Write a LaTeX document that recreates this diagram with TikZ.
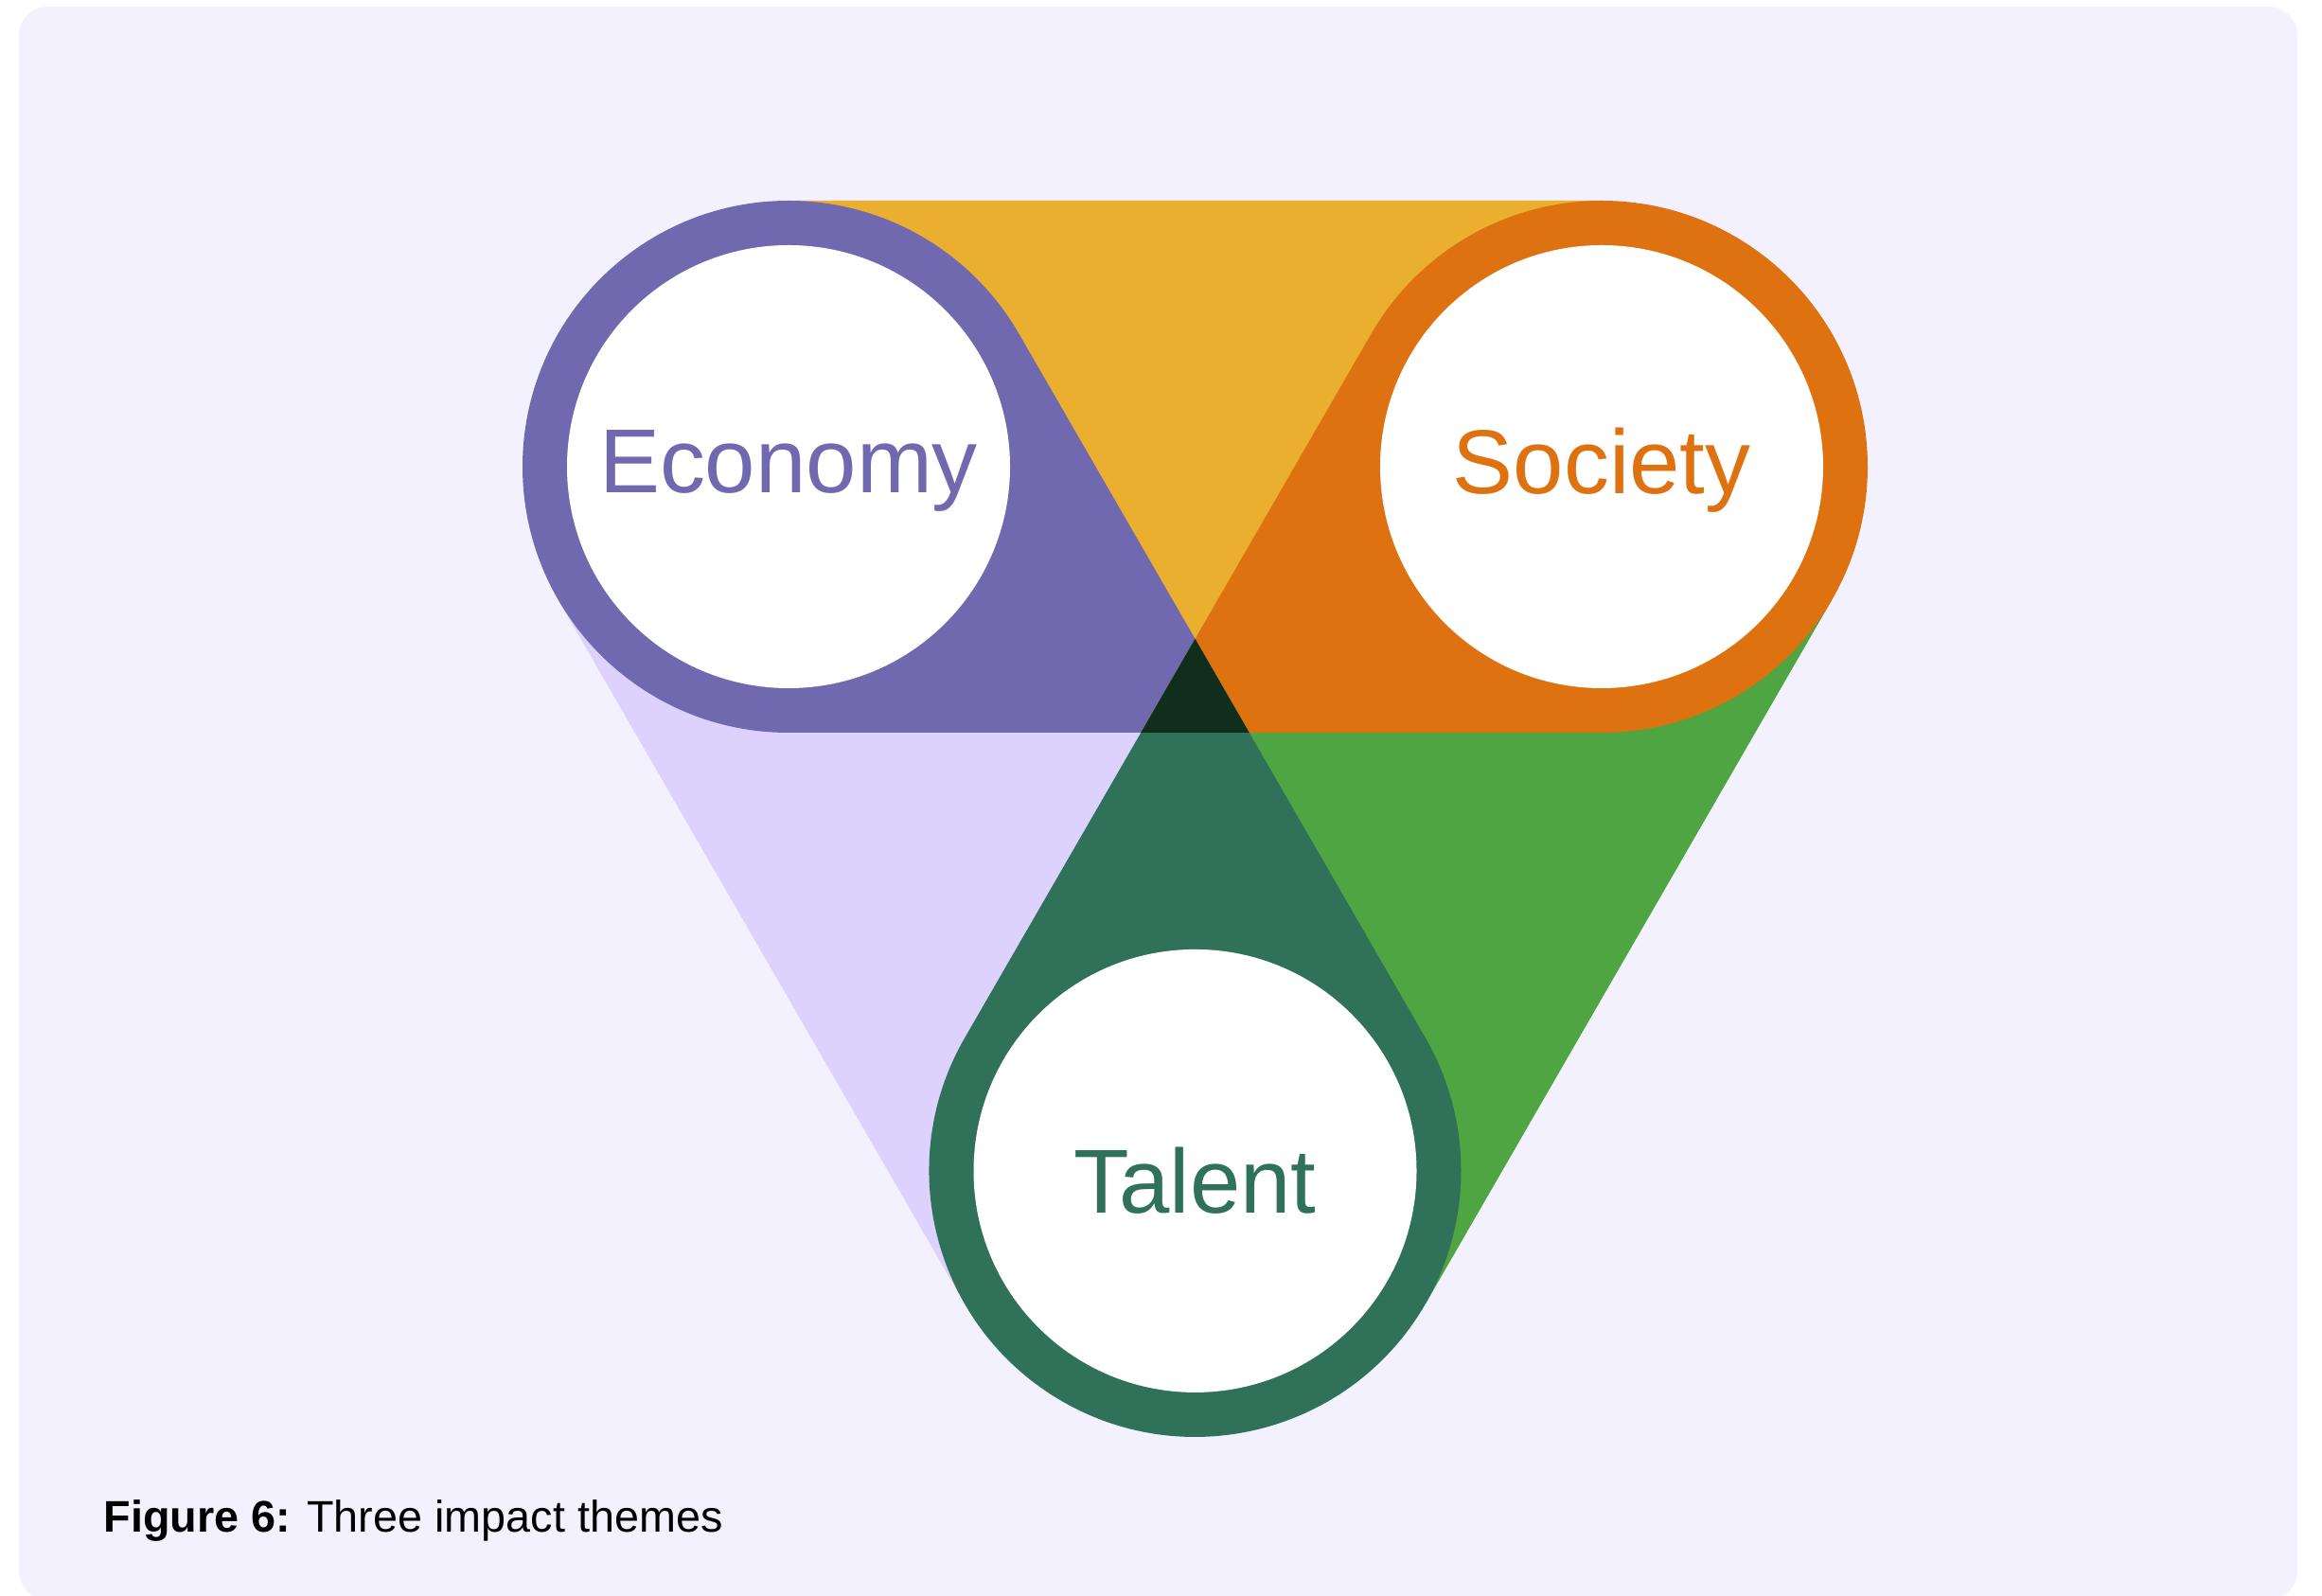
\documentclass[tikz,border=0pt]{standalone}
\usepackage{fontspec}
\setmainfont{Liberation Sans}
\usetikzlibrary{calc}

\definecolor{panelLilac}{HTML}{F4F1FE}
\definecolor{sunYellow}{HTML}{EBAF30}
\definecolor{paleLilac}{HTML}{DCD2FD}
\definecolor{leafGreen}{HTML}{4EA541}
\definecolor{ecoPurple}{HTML}{7169B0}
\definecolor{socOrange}{HTML}{DE7210}
\definecolor{talGreen}{HTML}{2F7159}
\definecolor{coreGreen}{HTML}{112D1C}

\begin{document}
\begin{tikzpicture}[
  theme label/.style={anchor=base, inner sep=0pt, font=\fontsize{27.3}{31}\selectfont},
  hole/.style={fill=white},
]
  \useasboundingbox (0,0) rectangle (24.53,16.85);

  % Background panel
  \fill[panelLilac, rounded corners=0.3cm] (0.2,-0.05) rectangle (24.27,16.78);

  % Centres and tips
  \def\rout{2.81}
  \def\rin{2.34}
  \coordinate (eco) at (8.33,11.92);
  \coordinate (soc) at ($(eco)+(8.59,0)$);
  \coordinate (tal) at ($(eco)+(-60:8.59)$);
  \coordinate (mid) at ($(tal)+(90:2*\rout)$);
  \coordinate (ecoTip) at ($(eco)+(-30:2*\rout)$);
  \coordinate (socTip) at ($(soc)+(210:2*\rout)$);

  % Outer sectors
  \fill[sunYellow] ($(eco)+(0,\rout)$) -- ($(soc)+(0,\rout)$) -- (mid) -- cycle;
  \fill[paleLilac] ($(eco)+(210:\rout)$) -- ($(tal)+(210:\rout)$) -- (mid) -- cycle;
  \fill[leafGreen] ($(soc)+(-30:\rout)$) -- ($(tal)+(-30:\rout)$) -- (mid) -- cycle;

  % Economy drop
  \fill[ecoPurple] (ecoTip) -- ($(eco)+(0,-\rout)$)
    arc[start angle=-90, end angle=-330, radius=\rout] -- cycle;
  % Society drop
  \fill[socOrange] (socTip) -- ($(soc)+(0,-\rout)$)
    arc[start angle=-90, end angle=150, radius=\rout] -- cycle;
  % Talent drop
  \fill[talGreen] (mid) -- ($(tal)+(150:\rout)$)
    arc[start angle=150, end angle=390, radius=\rout] -- cycle;
  % Shared core
  \fill[coreGreen] (mid) -- (socTip) -- (ecoTip) -- cycle;

  % White discs
  \fill[hole] (eco) circle[radius=\rin];
  \fill[hole] (soc) circle[radius=\rin];
  \fill[hole] (tal) circle[radius=\rin];

  % Theme names
  \node[theme label, text=ecoPurple] (economy) at ($(eco)+(0,-0.28)$) {Economy};
  \node[theme label, text=socOrange] (society) at ($(soc)+(0,-0.29)$) {Society};
  \node[theme label, text=talGreen] (talent) at ($(tal)+(0,-0.45)$) {Talent};

  % Caption
  \node[anchor=base west, inner sep=0pt, font=\fontsize{13.3}{16}\selectfont] (caption)
    at (1.09,0.667) {\textbf{Figure 6:} Three impact themes};
\end{tikzpicture}
\end{document}
